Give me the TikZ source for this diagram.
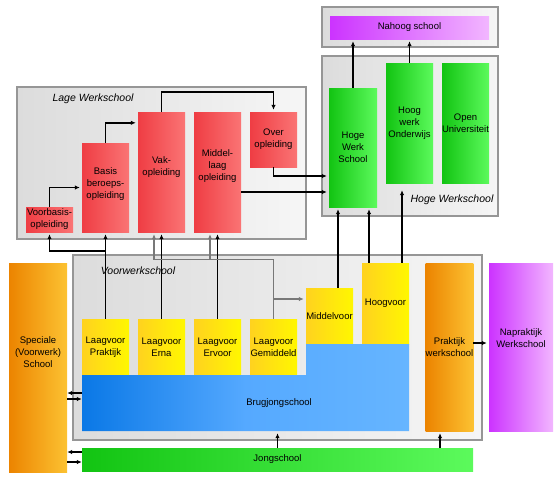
\documentclass[tikz,border=0pt]{standalone}
\usepackage{fontspec}
\setmainfont{Liberation Sans}
\usetikzlibrary{arrows.meta}
\definecolor{rood1}{HTML}{EF3D44}
\definecolor{rood2}{HTML}{FA7474}
\definecolor{groen1}{HTML}{12C412}
\definecolor{groen2}{HTML}{5CFA5C}
\definecolor{geel1}{HTML}{FFD21F}
\definecolor{geel2}{HTML}{FFF700}
\definecolor{oranje1}{HTML}{EC8400}
\definecolor{oranje2}{HTML}{FCC232}
\definecolor{paars1}{HTML}{CC33FF}
\definecolor{paars2}{HTML}{F2B6FF}
\definecolor{blauw1}{HTML}{0A78E6}
\definecolor{blauw2}{HTML}{66B5FF}
\definecolor{blauwm}{HTML}{55A9FF}
\definecolor{grijs1}{HTML}{DCDCDC}
\definecolor{grijs2}{HTML}{F6F6F6}
\definecolor{grijsrand}{HTML}{969696}
\definecolor{lijngrijs}{HTML}{787878}

\begin{document}
\begin{tikzpicture}[x=1pt,y=-1pt,
  box/.style={inner sep=0pt,align=center,font=\fontsize{9.5}{12}\selectfont},
  wh/.style 2 args={minimum width=#1pt,minimum height=#2pt},
  rood/.style={box,left color=rood1,right color=rood2},
  groen/.style={box,left color=groen1,right color=groen2},
  geel/.style={box,left color=geel1,right color=geel2},
  oranje/.style={box,left color=oranje1,right color=oranje2},
  paars/.style={box,left color=paars1,right color=paars2},
  groep/.style={draw=grijsrand,line width=2pt,left color=grijs1,right color=grijs2},
  titel/.style={font=\fontsize{10.5}{12}\selectfont\itshape},
  pijl/.style={line width=1.6pt,-{Latex[length=5pt,width=4.5pt]},shorten >=2pt},
  grijslijn/.style={pijl,draw=lijngrijs,line width=1.3pt}]
  \useasboundingbox (0,0) rectangle (560,480);

  % groepen
  \draw[groep] (322,7) rectangle (498,47);
  \draw[groep] (322,56) rectangle (498,216);
  \draw[groep] (17,87) rectangle (306,239);
  \draw[groep] (73,255) rectangle (482,440);
  \node[titel] (tlage) at (93,99) {Lage Werkschool};
  \node[titel] (thoog) at (452,200) {Hoge Werkschool};
  \node[titel] (tvoor) at (138,271) {Voorwerkschool};

  % Lage Werkschool
  \node[rood,wh={47}{25}] (vbo) at (49.5,219.5) {Voorbasis-\\opleiding};
  \node[rood,wh={47}{89},label={[box,yshift=3pt]center:Basis\\beroeps-\\opleiding}] (bbo) at (105.5,187.5) {};
  \node[rood,wh={47}{120},label={[box,yshift=5pt]center:Vak-\\opleiding}] (vak) at (161.5,172) {};
  \node[rood,wh={47}{120},label={[box,yshift=6pt]center:Middel-\\laag\\opleiding}] (mlo) at (217.5,172) {};
  \node[rood,wh={47}{55}] (ovr) at (273.5,139.5) {Over\\opleiding};

  % Hoge Werkschool
  \node[paars,wh={159}{23}] (nahoog) at (409.5,27.5) {Nahoog school};
  \node[groen,wh={48}{119}] (hws) at (353,147.5) {Hoge\\Werk\\School};
  \node[groen,wh={47}{120}] (hwo) at (409.5,123) {Hoog\\werk\\Onderwijs};
  \node[groen,wh={47}{120}] (ou) at (465.5,123) {Open\\Universiteit};

  % Voorwerkschool
  \node[oranje,wh={58}{209},label={[box,yshift=15pt]center:Speciale\\(Voorwerk)\\School}] (spec) at (38,367.5) {};
  \node[geel,wh={47}{56}] (lvp) at (105.5,347) {Laagvoor\\Praktijk};
  \node[geel,wh={47}{56}] (lve) at (161.5,347) {Laagvoor\\Erna};
  \node[geel,wh={47}{56}] (lvr) at (217.5,347) {Laagvoor\\Ervoor};
  \node[geel,wh={47}{56}] (lvg) at (273.5,347) {Laagvoor\\Gemiddeld};
  \node[geel,wh={47}{56}] (mvo) at (329.5,316) {Middelvoor};
  \node[geel,wh={47}{81}] (hvo) at (385.5,303.5) {Hoogvoor};
  \shade[left color=blauw1,right color=blauw2,middle color=blauwm]
    (82,375) -- (82,431) -- (409,431) -- (409,344) -- (306,344) -- (306,375) -- cycle;
  \node[box,wh={327}{56},label={[box,xshift=33.5pt]center:Brugjongschool}] (brug) at (245.5,403) {};
  \node[oranje,wh={47}{168}] (prk) at (449.5,347) {Praktijk\\werkschool};
  \node[paars,wh={64}{168},label={[box,yshift=9pt]center:Napraktijk\\Werkschool}] (nap) at (521,347) {};
  \node[groen,wh={391}{23}] (jong) at (277.5,459.5) {Jongschool};

  % pijlen Lage Werkschool
  \draw[pijl] (vbo.north) |- (bbo.west);
  \draw[pijl] (bbo.north) |- ([yshift=-11pt]vak.north west);
  \draw[pijl] (vak.north) -- ([yshift=20pt]vak.north) -| (ovr.north);
  \draw[pijl] (ovr.south) |- ([yshift=-28.5pt]hws.west);
  \coordinate (mlu) at ([yshift=-20pt]mlo.east);
  \draw[pijl] (mlu) -- (mlu -| hws.west);
  \draw[pijl] (hws.north) -- (hws.north |- nahoog.south);
  \draw[pijl] (hwo.north) -- (hwo.north |- nahoog.south);

  % pijlen Voorwerkschool
  \draw[pijl] (lvp.north) -- (bbo.south);
  \draw[pijl] (lvp.north) |- ([yshift=-19pt]vbo.south) -- (vbo.south);
  \draw[pijl] (lve.north) -- (vak.south);
  \draw[pijl] (lvr.north) -- (mlo.south);
  \draw[grijslijn] (lvg.north) |- ([xshift=-7.5pt,yshift=-27pt]vak.south) -- ([xshift=-7.5pt]vak.south);
  \draw[grijslijn] ([xshift=-7.5pt,yshift=-27pt]mlo.south) -- ([xshift=-7.5pt]mlo.south);
  \coordinate (mvi) at ([yshift=17pt]mvo.west);
  \draw[grijslijn] (lvg.north |- mvi) -- (mvi);
  \coordinate (mvt) at ([xshift=8.5pt]mvo.north);
  \draw[pijl] (mvt) -- (mvt |- hws.south);
  \coordinate (hvl) at ([xshift=-16.5pt]hvo.north);
  \draw[pijl] (hvl) -- (hvl |- hws.south);
  \coordinate (hvr) at ([xshift=16.5pt]hvo.north);
  \draw[pijl,shorten >=7pt] (hvr) -- (hvr |- hwo.south);

  % Jongschool en Praktijk
  \draw[pijl] (jong.north) -- (jong.north |- brug.south);
  \coordinate (jpr) at ([xshift=-9.5pt]prk.south);
  \draw[pijl] (jpr |- jong.north) -- (jpr);
  \coordinate (prn) at ([yshift=4pt]prk.east);
  \draw[pijl] (prn) -- (prn -| nap.west);
  \foreach \naam/\links/\rechts in {brug/10/4,jong/7.5/-2.5} {
    \coordinate (l) at ([yshift=\links]\naam.west);
    \coordinate (r) at ([yshift=\rechts]\naam.west);
    \draw[pijl,shorten >=0pt] (l) -- (l -| spec.east);
    \draw[pijl,shorten >=0pt] (r -| spec.east) -- (r);
  }
\end{tikzpicture}
\end{document}
